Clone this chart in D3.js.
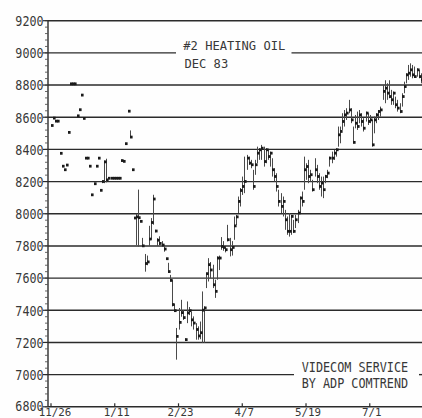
<!DOCTYPE html>
<html><head><meta charset="utf-8">
<script src="https://cdn.jsdelivr.net/npm/d3@7"></script>
<style>html,body{margin:0;padding:0;background:#fff;overflow:hidden}</style>
</head><body><svg id="c" width="422" height="418"></svg>
<script>
// Daily high / low / close, one entry per trading day from 11/26
const highs = [
 8548,8594,8575,8575,8375,8295,8273,8302,8505,8807,
 8807,8807,8608,8646,8737,8592,8345,8345,8295,8117,
 8186,8295,8345,8145,8200,8330,8342,8220,8220,8220,
 8220,8220,8220,8330,8325,8435,8637,8518,8273,7973,
 8000,8150,7960,7850,7750,7740,7925,7973,8118,7900,
 7848,7860,7830,7795,7725,7695,7620,7590,7440,7290,
 7414,7465,7400,7225,7455,7420,7390,7362,7320,7300,
 7330,7517,7424,7632,7724,7700,7683,7590,7735,7740,
 7855,7830,7800,7931,7850,7830,7983,7993,8107,8160,
 8231,8355,8366,8355,8335,8273,8335,8417,8407,8428,
 8417,8407,8397,8386,8345,8283,8252,8149,8128,8107,
 8024,7983,8004,7993,7962,7993,8024,8107,8138,8355,
 8314,8335,8273,8211,8345,8304,8252,8231,8231,8242,
 8273,8355,8386,8397,8407,8542,8542,8625,8645,8656,
 8708,8656,8542,8614,8635,8645,8625,8594,8635,8625,
 8614,8583,8604,8625,8645,8666,8801,8830,8811,8830,
 8770,8760,8728,8708,8687,8749,8821,8873,8925,8935,
 8925,8915,8904,8894,8873
];
const lows = [
 8548,8594,8575,8575,8375,8295,8273,8302,8505,8807,
 8807,8807,8608,8646,8737,8592,8345,8345,8295,8117,
 8186,8295,8345,8145,8190,8190,8195,8220,8220,8220,
 8220,8220,8220,8330,8325,8435,8637,8476,8273,7973,
 7805,7795,7950,7795,7640,7680,7800,7838,7932,7885,
 7800,7805,7795,7764,7715,7633,7580,7424,7390,7093,
 7280,7360,7340,7210,7320,7370,7300,7280,7217,7217,
 7220,7197,7197,7538,7579,7600,7538,7477,7590,7650,
 7776,7770,7760,7828,7735,7740,7838,7930,8004,8045,
 8117,8128,8273,8304,8283,8149,8242,8314,8335,8335,
 8293,8314,8335,8293,8231,8200,8138,8045,8004,7983,
 7900,7869,7858,7869,7880,7911,7942,8004,8045,8149,
 8211,8190,8200,8138,8231,8190,8149,8107,8097,8190,
 8221,8293,8314,8335,8355,8417,8438,8521,8542,8583,
 8625,8563,8438,8531,8521,8563,8542,8511,8573,8552,
 8563,8417,8500,8563,8583,8604,8708,8687,8708,8718,
 8677,8677,8656,8635,8625,8666,8749,8811,8832,8852,
 8842,8852,8852,8842,8811
];
const closes = [
 8548,8594,8575,8575,8375,8295,8273,8302,8505,8807,
 8807,8807,8608,8646,8737,8592,8345,8345,8295,8117,
 8186,8295,8345,8145,8200,8322,8210,8220,8220,8220,
 8220,8220,8220,8330,8325,8435,8637,8476,8273,7973,
 7980,7975,7952,7800,7690,7700,7842,7945,8091,7892,
 7835,7815,7805,7780,7720,7640,7585,7435,7397,7237,
 7324,7385,7354,7217,7383,7397,7340,7320,7280,7240,
 7260,7400,7414,7627,7683,7650,7558,7517,7724,7724,
 7796,7790,7776,7838,7776,7790,7924,7980,8076,8144,
 8169,8200,8345,8314,8304,8169,8304,8376,8397,8407,
 8324,8397,8355,8376,8273,8231,8169,8076,8045,8076,
 7962,7890,7890,7983,7890,7962,8004,8097,8076,8273,
 8293,8231,8242,8149,8273,8231,8169,8190,8149,8231,
 8252,8345,8345,8376,8397,8490,8511,8573,8614,8625,
 8645,8583,8443,8562,8542,8614,8573,8531,8625,8573,
 8583,8428,8583,8614,8635,8645,8760,8780,8749,8728,
 8708,8749,8677,8656,8635,8728,8790,8863,8873,8894,
 8863,8852,8894,8852,8832
];
const yTickValues = [6800,7000,7200,7400,7600,7800,8000,8200,8400,8600,8800,9000,9200];
const xTickDays = [0,30,60,90,120,150];
const xTickLabels = ["11/26","1/11","2/23","4/7","5/19","7/1"];
const titleLines = ["#2 HEATING OIL","DEC 83"];
const creditLines = ["VIDECOM SERVICE","BY ADP COMTREND"];

const svg = d3.select("#c");
const W = 422, H = 418;
const x = d3.scaleLinear().domain([0,175]).range([51,422.9]);
const y = d3.scaleLinear().domain([6800,9200]).range([406.8,20.7]);
const left = 48;
const ink = "#2b2b2b";
const txt = "#383838";
const font = "'DejaVu Sans Mono', 'Liberation Mono', monospace";

svg.append("rect").attr("width",W).attr("height",H).attr("fill","#fefefe");

// gridlines, broken where the two text blocks sit
const gaps = {9000:[176,291.5], 7000:[294,419]};
const segs = [];
yTickValues.filter(v=>v>6800).forEach(v=>{
  if (gaps[v]) { segs.push([v,left,gaps[v][0]]); segs.push([v,gaps[v][1],W]); }
  else segs.push([v,left,W]);
});
svg.append("g").selectAll("line").data(segs).join("line")
  .attr("x1",d=>d[1]).attr("x2",d=>d[2])
  .attr("y1",d=>y(d[0])).attr("y2",d=>y(d[0]))
  .attr("stroke",ink).attr("stroke-width",1.4);

// helper: monospace text, narrow and tall like the plotter lettering
function label(g, str, px, py, size, sy, anchor) {
  g.append("text")
    .attr("transform",`translate(${px},${py}) scale(1,${sy})`)
    .attr("font-family",font).attr("font-size",size)
    .attr("text-anchor",anchor||"start").attr("fill",txt)
    .text(str);
}

// title & credit
const tg = svg.append("g");
label(tg, titleLines[0], 183.3, 50.2, 12.1, 1.0);
label(tg, titleLines[1], 184.5, 67.5, 12.1, 1.0);
label(tg, creditLines[0], 301.7, 371.8, 11.8, 1.2);
label(tg, creditLines[1], 301.7, 387.5, 11.8, 1.2);

// y axis
const ya = svg.append("g");
ya.append("line").attr("x1",left).attr("x2",left).attr("y1",y(9200)).attr("y2",y(6800))
  .attr("stroke",ink).attr("stroke-width",1.4);
ya.selectAll("line.minor").data(d3.range(6800,9201,40)).join("line").attr("class","minor")
  .attr("x1",left-3).attr("x2",left).attr("y1",d=>y(d)).attr("y2",d=>y(d))
  .attr("stroke","#555").attr("stroke-width",0.9);
ya.selectAll("line.major").data(yTickValues).join("line").attr("class","major")
  .attr("x1",left-5).attr("x2",left).attr("y1",d=>y(d)).attr("y2",d=>y(d))
  .attr("stroke",ink).attr("stroke-width",1.2);
const yl = svg.append("g");
yTickValues.forEach(v => label(yl, String(v), 43.5, y(v)+(v===6800?3.8:5.3), 11.7, 1.25, "end"));

// x axis
const xa = svg.append("g");
xa.append("line").attr("x1",left).attr("x2",W).attr("y1",y(6800)).attr("y2",y(6800))
  .attr("stroke",ink).attr("stroke-width",1.4);
xa.selectAll("line.t").data(xTickDays).join("line").attr("class","t")
  .attr("x1",d=>x(d)).attr("x2",d=>x(d)).attr("y1",y(6800)-3.5).attr("y2",y(6800))
  .attr("stroke",ink).attr("stroke-width",1.2);
xTickDays.forEach((d,i) => label(xa, xTickLabels[i], x(d)+(i===0?4:2), 415.8, 10.8, 1.0, "middle"));

// price bars
const days = d3.range(closes.length);
const bars = svg.append("g");
bars.selectAll("line").data(days.filter(i=>highs[i]!==lows[i])).join("line")
  .attr("x1",i=>Math.round(x(i))+0.5).attr("x2",i=>Math.round(x(i))+0.5)
  .attr("y1",i=>y(highs[i])).attr("y2",i=>y(lows[i]))
  .attr("stroke","#4a4a4a").attr("stroke-width",1);
bars.selectAll("rect").data(days).join("rect")
  .attr("x",i=>Math.round(x(i))).attr("y",i=>y(closes[i])-1.5)
  .attr("width",2.6).attr("height",2.8).attr("fill","#1a1a1a");
</script></body></html>
